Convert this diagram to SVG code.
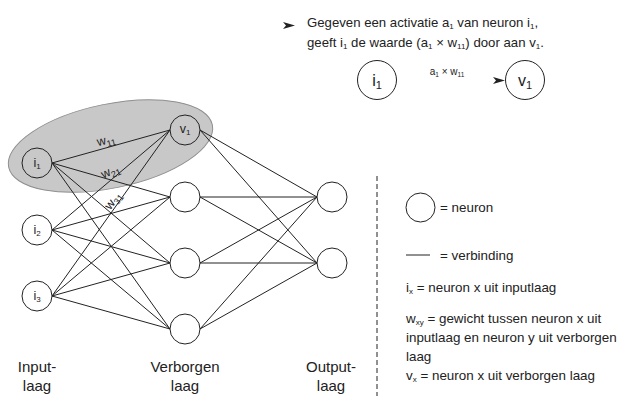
<svg xmlns="http://www.w3.org/2000/svg" width="629" height="396" viewBox="0 0 629 396">
<style>
text{font-family:"Liberation Sans",Arial,sans-serif;fill:#222}
.n{fill:#fff;stroke:#222;stroke-width:1}
.nt{fill:none;stroke:#222;stroke-width:1}
.c line{stroke:#222;stroke-width:1}
.lab{font-size:12.5px;text-anchor:middle}
.big{font-size:15px;text-anchor:middle}
.leg{font-size:13.4px}
.top{font-size:13.2px}
</style>
<rect width="629" height="396" fill="#fff"/>
<ellipse cx="110.5" cy="146" rx="104" ry="42" transform="rotate(-11.7 110.5 146)" fill="#c8c8c8" stroke="#8f8f8f" stroke-width="1"/>
<g id="connectors" class="c">
<line x1="52" y1="163" x2="170" y2="130"/>
<line x1="52" y1="163" x2="170" y2="197"/>
<line x1="52" y1="163" x2="170" y2="263"/>
<line x1="52" y1="163" x2="170" y2="329"/>
<line x1="52" y1="230" x2="170" y2="130"/>
<line x1="52" y1="230" x2="170" y2="197"/>
<line x1="52" y1="230" x2="170" y2="263"/>
<line x1="52" y1="230" x2="170" y2="329"/>
<line x1="52" y1="296" x2="170" y2="130"/>
<line x1="52" y1="296" x2="170" y2="197"/>
<line x1="52" y1="296" x2="170" y2="263"/>
<line x1="52" y1="296" x2="170" y2="329"/>
<line x1="200" y1="130" x2="317" y2="197"/>
<line x1="200" y1="130" x2="317" y2="263"/>
<line x1="200" y1="197" x2="317" y2="197"/>
<line x1="200" y1="197" x2="317" y2="263"/>
<line x1="200" y1="263" x2="317" y2="197"/>
<line x1="200" y1="263" x2="317" y2="263"/>
<line x1="200" y1="329" x2="317" y2="197"/>
<line x1="200" y1="329" x2="317" y2="263"/>
</g>
<g id="weight-labels">
<text class="lab" transform="translate(107,144) rotate(-14)">w<tspan font-size="9" dy="3">11</tspan></text>
<text class="lab" transform="translate(112,175) rotate(-24)">w<tspan font-size="9" dy="3">21</tspan></text>
<text class="lab" transform="translate(116,203) rotate(-52)">w<tspan font-size="9" dy="3">31</tspan></text>
</g>
<g id="i1"><circle class="nt" cx="37" cy="163" r="15"/><text class="lab" x="37" y="167">i<tspan font-size="8" dy="2">1</tspan></text></g>
<g id="i2"><circle class="n" cx="37" cy="230" r="15"/><text class="lab" x="37" y="234">i<tspan font-size="8" dy="2">2</tspan></text></g>
<g id="i3"><circle class="n" cx="37" cy="296" r="15"/><text class="lab" x="37" y="300">i<tspan font-size="8" dy="2">3</tspan></text></g>
<g id="v1"><circle class="nt" cx="185" cy="130" r="15"/><text class="lab" x="185" y="133">v<tspan font-size="8" dy="2">1</tspan></text></g>
<g id="h2"><circle class="n" cx="185" cy="197" r="15"/></g>
<g id="h3"><circle class="n" cx="185" cy="263" r="15"/></g>
<g id="h4"><circle class="n" cx="185" cy="329" r="15"/></g>
<g id="o1"><circle class="n" cx="332" cy="197" r="15"/></g>
<g id="o2"><circle class="n" cx="332" cy="263" r="15"/></g>
<g id="layer-labels">
<text class="big" x="37" y="372">Input-</text>
<text class="big" x="37" y="391">laag</text>
<text class="big" x="185" y="372">Verborgen</text>
<text class="big" x="185" y="391">laag</text>
<text class="big" x="331" y="372">Output-</text>
<text class="big" x="331" y="391">laag</text>
</g>
<line x1="377" y1="176" x2="377" y2="396" stroke="#222" stroke-width="1" stroke-dasharray="5,3"/>
<g id="top-note">
<polygon points="283,22 295,25.5 283,29 286,25.5" fill="#222"/>
<text class="top" x="307" y="27">Gegeven een activatie a<tspan font-size="8" dy="2">1</tspan><tspan dy="-2"> van neuron i</tspan><tspan font-size="8" dy="2">1</tspan><tspan dy="-2">,</tspan></text>
<text class="top" x="307" y="47">geeft i<tspan font-size="8" dy="2">1</tspan><tspan dy="-2"> de waarde (a</tspan><tspan font-size="8" dy="2">1</tspan><tspan dy="-2"> × w</tspan><tspan font-size="8" dy="2">11</tspan><tspan dy="-2">) door aan v</tspan><tspan font-size="8" dy="2">1</tspan><tspan dy="-2">.</tspan></text>
</g>
<g id="example">
<g id="ex-i1"><circle class="n" cx="377" cy="80" r="19.5"/><text x="377" y="86" font-size="16" text-anchor="middle">i<tspan font-size="11" dy="3">1</tspan></text></g>
<text x="447" y="75" font-size="10" text-anchor="middle">a<tspan font-size="6.5" dy="1.5">1</tspan><tspan dy="-1.5"> × w</tspan><tspan font-size="6.5" dy="1.5">11</tspan></text>
<polygon points="493,77 505,80.5 493,84 496,80.5" fill="#222"/>
<g id="ex-v1"><circle class="n" cx="525" cy="80" r="19.5"/><text x="525" y="86" font-size="16" text-anchor="middle">v<tspan font-size="11" dy="3">1</tspan></text></g>
</g>
<g id="legend">
<circle class="n" cx="420.5" cy="207.5" r="14.5"/>
<text class="leg" x="440" y="212">= neuron</text>
<line x1="406" y1="255" x2="430" y2="255" stroke="#222" stroke-width="1"/>
<text class="leg" x="440" y="260">= verbinding</text>
<text class="leg" x="406" y="292">i<tspan font-size="8" dy="2">x</tspan><tspan dy="-2"> = neuron x uit inputlaag</tspan></text>
<text class="leg" x="406" y="323">w<tspan font-size="8" dy="2">xy</tspan><tspan dy="-2"> = gewicht tussen neuron x uit</tspan></text>
<text class="leg" x="406" y="342">inputlaag en neuron y uit verborgen</text>
<text class="leg" x="406" y="361">laag</text>
<text class="leg" x="406" y="380">v<tspan font-size="8" dy="2">x</tspan><tspan dy="-2"> = neuron x uit verborgen laag</tspan></text>
</g>
</svg>
